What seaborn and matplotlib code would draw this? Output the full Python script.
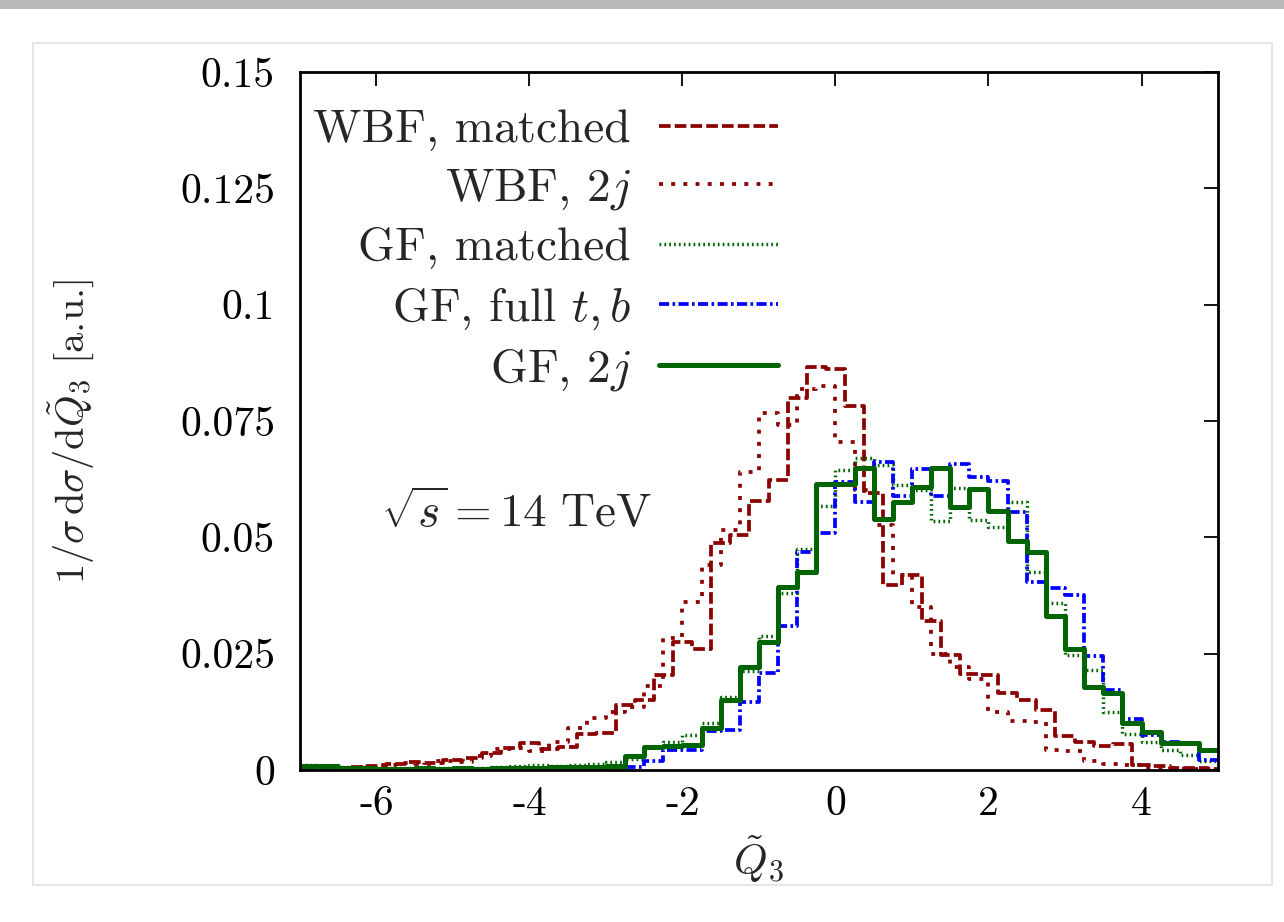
import numpy as np
import pandas as pd
import matplotlib.pyplot as plt
from matplotlib.patches import Rectangle
import seaborn as sns

# bins of width 0.25 from -7 to 5 (GF and WBF 2j)
edges = np.arange(-7.0, 5.0001, 0.25)
# WBF matched histogram is shifted by half a bin
edges_shift = np.arange(-7.125, 5.1251, 0.25)

# values per bin
wbf_matched = [0.0003, 0.0002, 0.0005, 0.0006, 0.0008, 0.0012, 0.0018, 0.0015,   # -7.0 .. -5.25
               0.0022, 0.0025, 0.0036, 0.0048, 0.0057, 0.0045, 0.0050, 0.0078,   # -5.0 .. -3.25
               0.0080, 0.0140, 0.0150, 0.0204, 0.0275, 0.0260, 0.0487, 0.0505,   # -3.0 .. -1.25
               0.0579, 0.0623, 0.0799, 0.0865, 0.0862, 0.0783, 0.0595, 0.0398,   # -1.0 .. 0.75
               0.0419, 0.0320, 0.0247, 0.0207, 0.0205, 0.0165, 0.0150, 0.0129,   # 1.0 .. 2.75
               0.0074, 0.0061, 0.0052, 0.0055, 0.0010, 0.0008, 0.0005, 0.0004,   # 3.0 .. 4.75
               0.0003]                                                           # 5.0

wbf_2j = [0.0002, 0.0003, 0.0004, 0.0006, 0.0010, 0.0014, 0.0012, 0.0020,
          0.0018, 0.0030, 0.0045, 0.0047, 0.0040, 0.0060, 0.0090, 0.0112,
          0.0125, 0.0135, 0.0180, 0.0284, 0.0362, 0.0440, 0.0515, 0.0641,
          0.0767, 0.0741, 0.0818, 0.0825, 0.0705, 0.0602, 0.0527, 0.0420,
          0.0350, 0.0250, 0.0222, 0.0196, 0.0125, 0.0105, 0.0103, 0.0042,
          0.0040, 0.0020, 0.0012, 0.0010, 0.0005, 0.0004, 0.0003, 0.0002]

gf_matched = [0.0010, 0.0009, 0.0006, 0.0005, 0.0004, 0.0004, 0.0005, 0.0004,
              0.0005, 0.0004, 0.0006, 0.0008, 0.0010, 0.0009, 0.0011, 0.0012,
              0.0018, 0.0023, 0.0050, 0.0061, 0.0075, 0.0100, 0.0157, 0.0213,
              0.0288, 0.0380, 0.0476, 0.0567, 0.0644, 0.0671, 0.0656, 0.0612,
              0.0601, 0.0536, 0.0607, 0.0537, 0.0523, 0.0575, 0.0426, 0.0358,
              0.0247, 0.0215, 0.0125, 0.0077, 0.0061, 0.0043, 0.0032, 0.0019]

gf_full = [0.0002, 0.0002, 0.0003, 0.0002, 0.0003, 0.0002, 0.0003, 0.0002,
           0.0003, 0.0002, 0.0003, 0.0003, 0.0004, 0.0003, 0.0004, 0.0005,
           0.0008, 0.0007, 0.0020, 0.0042, 0.0042, 0.0083, 0.0085, 0.0146,
           0.0209, 0.0310, 0.0469, 0.0510, 0.0619, 0.0577, 0.0662, 0.0588,
           0.0646, 0.0588, 0.0657, 0.0630, 0.0621, 0.0555, 0.0403, 0.0391,
           0.0376, 0.0244, 0.0171, 0.0110, 0.0075, 0.0061, 0.0057, 0.0021]

gf_2j = [0.0008, 0.0008, 0.0005, 0.0004, 0.0003, 0.0003, 0.0004, 0.0003,
         0.0004, 0.0003, 0.0004, 0.0004, 0.0005, 0.0006, 0.0007, 0.0006,
         0.0008, 0.0030, 0.0050, 0.0052, 0.0054, 0.0090, 0.0150, 0.0221,
         0.0274, 0.0393, 0.0425, 0.0615, 0.0615, 0.0648, 0.0539, 0.0575,
         0.0608, 0.0648, 0.0566, 0.0603, 0.0557, 0.0493, 0.0469, 0.0330,
         0.0261, 0.0179, 0.0165, 0.0100, 0.0082, 0.0059, 0.0059, 0.0043]

labels = ["WBF, matched", "WBF, $2j$", "GF, matched", r"GF, full $t,b$", "GF, $2j$"]
xticks = [-6, -4, -2, 0, 2, 4]
yticks = [0, 0.025, 0.05, 0.075, 0.1, 0.125, 0.15]
ytick_labels = ["0", "0.025", "0.05", "0.075", "0.1", "0.125", "0.15"]

sns.set_style("white")
plt.rcParams["font.family"] = ["cmr10"]
plt.rcParams["mathtext.fontset"] = "cm"
plt.rcParams["axes.unicode_minus"] = False
plt.rcParams["axes.formatter.use_mathtext"] = True

dred = "#8b0000"
dgreen = "#006400"
blue = "#0000ff"

series = [
    (wbf_matched, edges_shift, dict(color=dred, lw=2.7, linestyle=(0, (3.1, 1.1)))),
    (wbf_2j, edges, dict(color=dred, lw=2.7, linestyle=(0, (1.05, 2.2)))),
    (gf_matched, edges, dict(color=dgreen, lw=2.5, linestyle=(0, (0.5, 0.9)))),
    (gf_full, edges, dict(color=blue, lw=2.7, linestyle=(0, (2.7, 0.9, 0.7, 0.9)))),
    (gf_2j, edges, dict(color=dgreen, lw=3.6, linestyle="-")),
]

fig = plt.figure(figsize=(12.84, 9.22), dpi=100)

# light frame of the slide around the plot
fig.patches.append(Rectangle((33 / 1284, 1 - 885 / 922), 1239 / 1284, 842 / 922,
                             transform=fig.transFigure, fill=False,
                             edgecolor="#e2e2e2", lw=1.2))
fig.patches.append(Rectangle((0, 1 - 9 / 922), 1, 9 / 922, transform=fig.transFigure,
                             color="#b8b8b8", lw=0))

ax = fig.add_axes([300 / 1284, 1 - 770 / 922, 918 / 1284, 698 / 922])

handles = []
for (vals, bins, kws), lab in zip(series, labels):
    # step outline: one point per left edge, plus the closing right edge
    df = pd.DataFrame({"x": bins, "y": np.append(vals, vals[-1])})
    sns.lineplot(data=df, x="x", y="y", drawstyle="steps-post", ax=ax, **kws)
    line = ax.lines[-1]
    line.set_label(lab)
    handles.append(line)

ax.set_xlim(-7, 5)
ax.set_ylim(0, 0.15)
ax.set_xticks(xticks)
ax.set_xticklabels([str(t) for t in xticks])
ax.set_yticks(yticks)
ax.set_yticklabels(ytick_labels)
ax.tick_params(direction="in", length=10, width=1.3, top=True, right=True,
               labelsize=30, colors="black")
ax.tick_params(axis="x", pad=11)
ax.tick_params(axis="y", pad=18)
for sp in ax.spines.values():
    sp.set_linewidth(2.0)
    sp.set_color("black")

ax.set_xlabel(r"$\tilde{Q}_3$", fontsize=31, labelpad=8)
ax.set_ylabel(r"$1/\sigma\,\mathrm{d}\sigma/\mathrm{d}\tilde{Q}_3$ [a.u.]", fontsize=29)
ax.yaxis.set_label_coords(-0.222, 0.485)

ax.text(-5.945, 0.0551, r"$\sqrt{s}=14\ \mathrm{TeV}$", fontsize=34, va="center", ha="left")

leg = ax.legend(handles=handles, labels=labels, loc="upper right",
                bbox_to_anchor=(0.521, 0.947), markerfirst=False, frameon=False,
                fontsize=34, handlelength=2.52, handletextpad=0.6, labelspacing=0.33,
                borderaxespad=0, borderpad=0)

fig.savefig("out.png", dpi=100)
